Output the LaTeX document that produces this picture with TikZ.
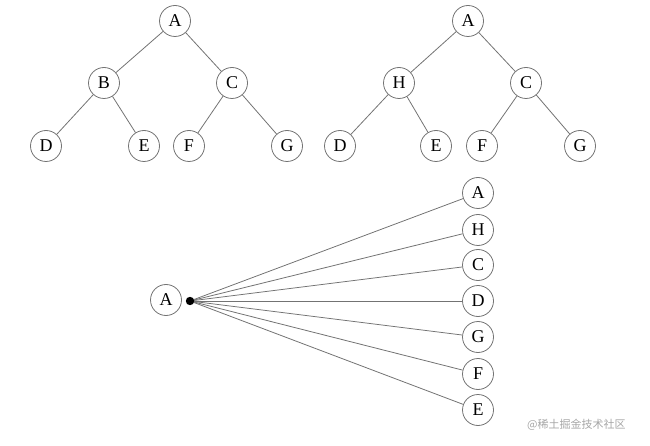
\documentclass[tikz,border=0pt]{standalone}
\usepackage{fontspec}
\setmainfont{Liberation Serif}
\newfontfamily\cjk{Noto Sans CJK SC}
\begin{document}
\begin{tikzpicture}[x=1pt,y=-1pt,
  nd/.style={circle,draw=black!55,line width=0.8pt,minimum size=31pt,inner sep=0pt,font=\fontsize{18}{20}\selectfont},
  ed/.style={draw=black!55,line width=0.8pt}]
\useasboundingbox (0,0) rectangle (650,446);
% tree 1
\node[nd] (a1) at (175,21) {A};
\node[nd] (b1) at (104,83) {B};
\node[nd] (c1) at (232,83) {C};
\node[nd] (d1) at (46,146) {D};
\node[nd] (e1) at (144,146) {E};
\node[nd] (f1) at (189,146) {F};
\node[nd] (g1) at (287,146) {G};
\draw[ed] (a1)--(b1) (a1)--(c1) (b1)--(d1) (b1)--(e1) (c1)--(f1) (c1)--(g1);
% tree 2
\node[nd] (a2) at (468,21) {A};
\node[nd] (h2) at (399,83) {H};
\node[nd] (c2) at (526,83) {C};
\node[nd] (d2) at (340,146) {D};
\node[nd] (e2) at (436,146) {E};
\node[nd] (f2) at (482,146) {F};
\node[nd] (g2) at (580,146) {G};
\draw[ed] (a2)--(h2) (a2)--(c2) (h2)--(d2) (h2)--(e2) (c2)--(f2) (c2)--(g2);
% fan
\node[nd] (a3) at (166,300) {A};
\coordinate (hub) at (190,301);
\node[nd] (ra) at (478,193) {A};
\node[nd] (rh) at (478,230) {H};
\node[nd] (rc) at (478,265) {C};
\node[nd] (rd) at (478,301) {D};
\node[nd] (rg) at (478,337) {G};
\node[nd] (rf) at (478,374) {F};
\node[nd] (re) at (478,410) {E};
\foreach \n in {ra,rh,rc,rd,rg,rf,re} \draw[ed] (hub)--(\n);
\fill (hub) circle (4.2pt);
\node[text=black!35,font=\cjk\fontsize{11}{12}\selectfont,anchor=west,inner sep=0pt] (wm) at (527,425) {@稀土掘金技术社区};
\end{tikzpicture}
\end{document}
